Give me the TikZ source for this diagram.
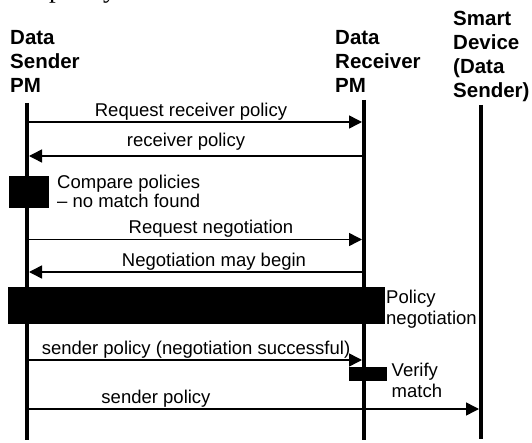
\documentclass[tikz,border=0pt]{standalone}
\usepackage{fontspec}
\setmainfont{Liberation Sans}
\newfontfamily\seriffont{Liberation Serif}
\usetikzlibrary{arrows.meta}
\begin{document}
\begin{tikzpicture}[x=1pt,y=-1pt,
  lifeline/.style={line width=4.5pt},
  msg/.style={line width=1.5pt,-{Triangle[length=13pt,width=13pt]}},
  actbox/.style={fill=black,draw=none},
  head/.style={font=\fontsize{20.5}{24}\selectfont\bfseries, anchor=base west, inner sep=0pt},
  lbl/.style={font=\fontsize{18.5}{21}\selectfont, anchor=base, inner sep=0pt},
  note/.style={font=\fontsize{18.5}{21}\selectfont, anchor=base west, inner sep=0pt}]
\clip (0,0) rectangle (532,443);
\useasboundingbox (0,0) rectangle (532,443);

% cut-off caption fragment
\node[anchor=base west, inner sep=0pt, font=\seriffont\fontsize{27}{27}\selectfont] (frag) at (49,-2) {policy};

% headers
\node[head] (hS1) at (10,45) {Data};
\node[head] (hS2) at (10,69) {Sender};
\node[head] (hS3) at (10,93) {PM};
\node[head] (hR1) at (335,45) {Data};
\node[head] (hR2) at (335,69) {Receiver};
\node[head] (hR3) at (335,93) {PM};
\node[head] (hD1) at (453,26) {Smart};
\node[head] (hD2) at (453,50) {Device};
\node[head] (hD3) at (453,74) {(Data};
\node[head] (hD4) at (453,98) {Sender)};

% lifelines
\coordinate (Stop) at (27,103);   \coordinate (Sbot) at (27,440);
\coordinate (Rtop) at (364,100);  \coordinate (Rbot) at (364,440);
\coordinate (Dtop) at (481,105);  \coordinate (Dbot) at (481,439);
\draw[lifeline] (Stop) -- (Sbot);
\draw[lifeline] (Rtop) -- (Rbot);
\draw[lifeline] (Dtop) -- (Dbot);

% message end points
\coordinate (m1s) at (29,122);   \coordinate (m1r) at (362,122);
\coordinate (m2s) at (29,156);   \coordinate (m2r) at (362,156);
\coordinate (m3s) at (29,239.5); \coordinate (m3r) at (362,239.5);
\coordinate (m4s) at (29,272);   \coordinate (m4r) at (362,272);
\coordinate (m5s) at (29,360);   \coordinate (m5r) at (362,360);
\coordinate (m6s) at (29,409);   \coordinate (m6d) at (479,409);

\draw[msg] (m1s) -- (m1r);
\node[lbl] (l1) at (191,117) {Request receiver policy};
\draw[msg] (m2r) -- (m2s);
\node[lbl] (l2) at (186,147) {receiver policy};

% compare
\fill[actbox] (9,176) rectangle (49,208);
\node[note] (n1a) at (57,189) {Compare policies};
\node[note] (n1b) at (57,208) {– no match found};

\draw[msg] (m3s) -- (m3r);
\node[lbl] (l3) at (211,234) {Request negotiation};
\draw[msg] (m4r) -- (m4s);
\node[lbl] (l4) at (214,266) {Negotiation may begin};

% negotiation
\fill[actbox] (7.5,287) rectangle (385,324);
\node[note] (n2a) at (386,303) {Policy};
\node[note] (n2b) at (386,324) {negotiation};

\draw[msg] (m5s) -- (m5r);
\node[lbl] (l5) at (196,354) {sender policy (negotiation successful)};

% verify
\fill[actbox] (349,367) rectangle (386.5,381);
\node[note] (n3a) at (391.5,376) {Verify};
\node[note] (n3b) at (391.5,397) {match};

\draw[msg] (m6s) -- (m6d);
\node[lbl] (l6) at (156,403) {sender policy};
\end{tikzpicture}
\end{document}
